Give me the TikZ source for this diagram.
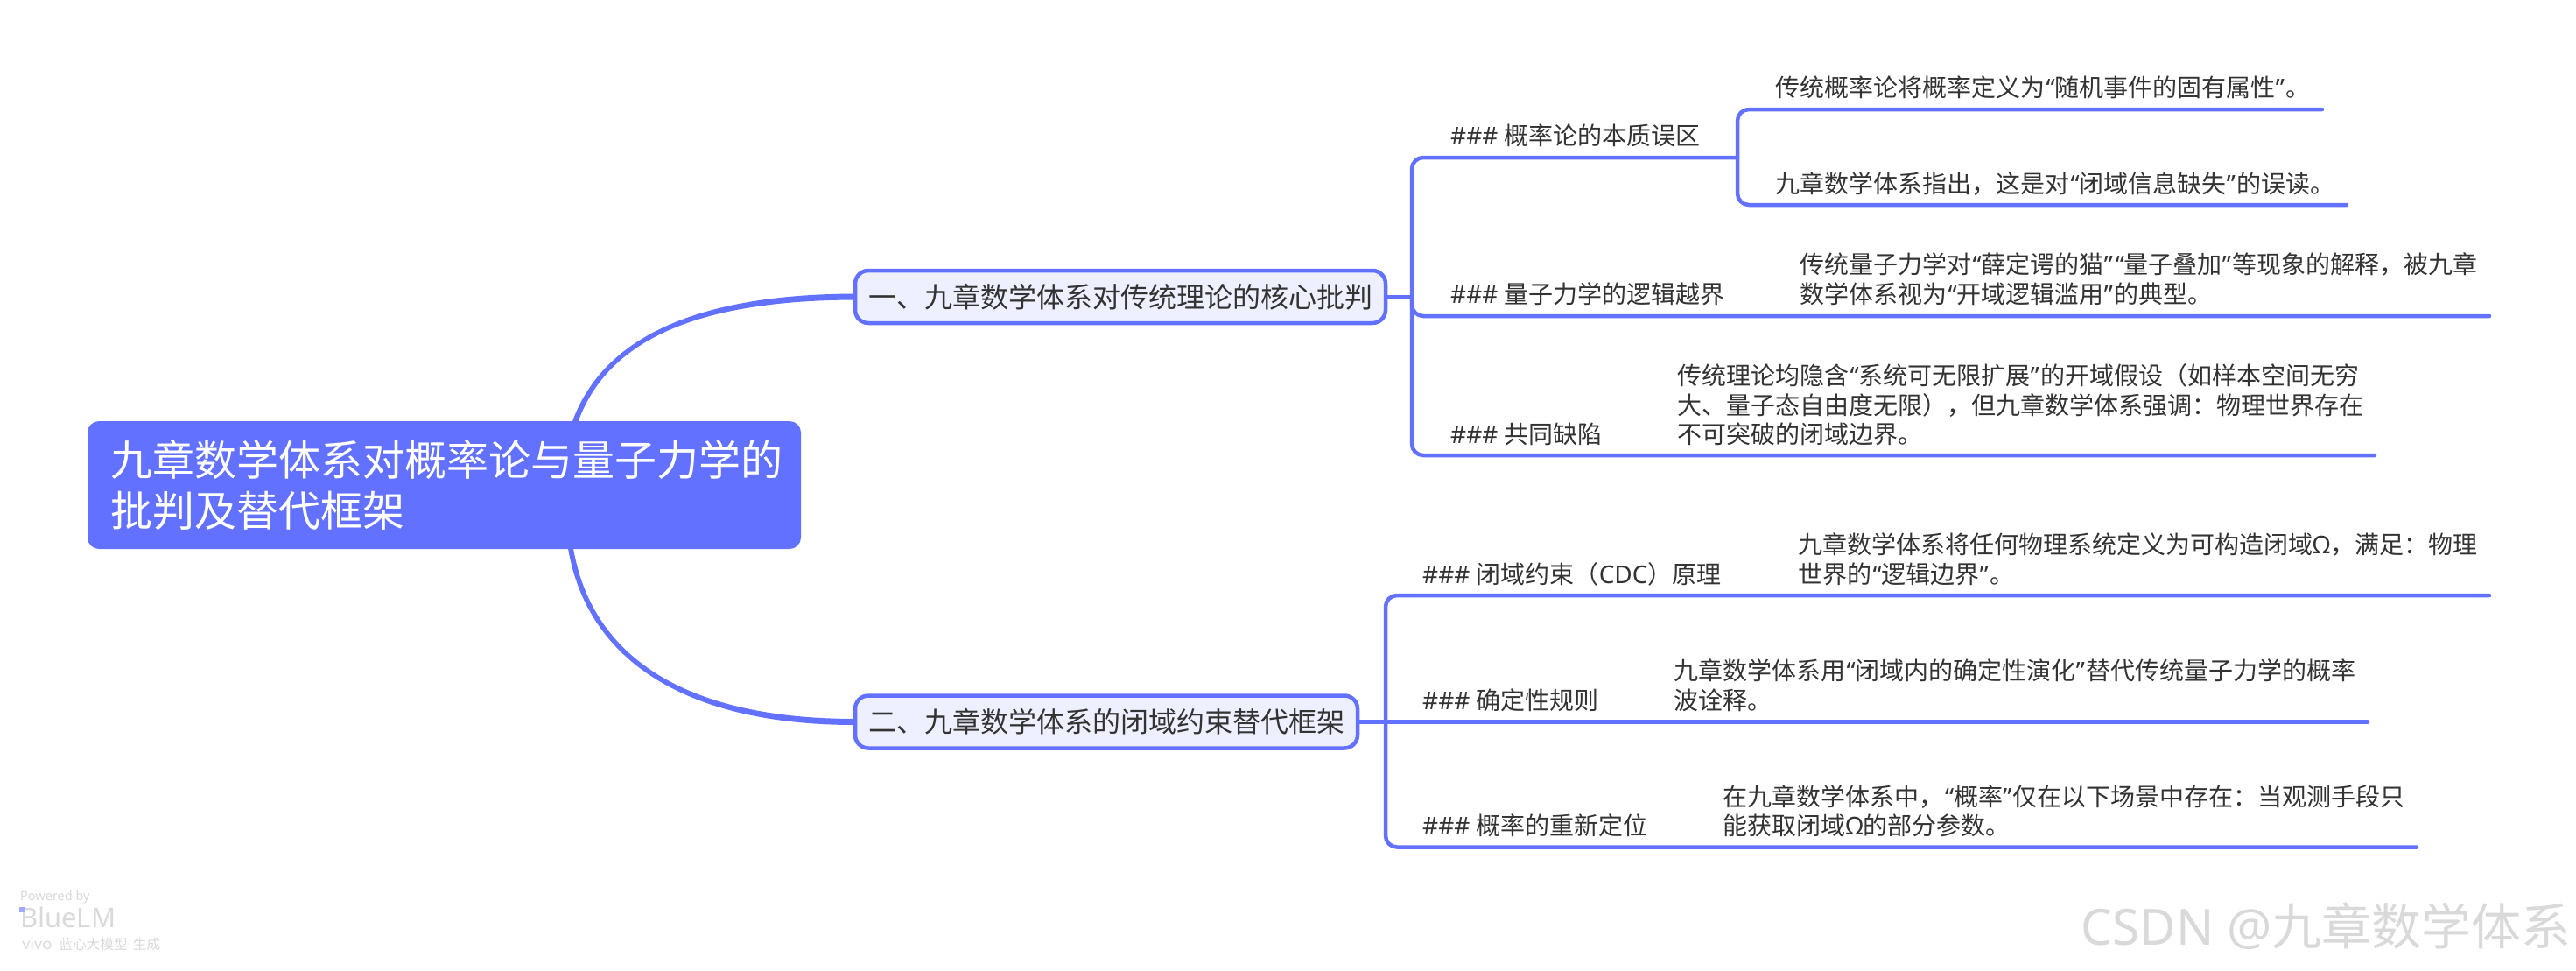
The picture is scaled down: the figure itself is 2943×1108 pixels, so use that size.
\documentclass[tikz,border=0pt]{standalone}
\usepackage{fontspec}
\setmainfont{Noto Sans CJK SC}
\newfontfamily\lat{Noto Sans}
\newfontfamily\popp{Poppins}
\newcommand{\qa}{\kern1.5pt{\lat “}}
\newcommand{\qb}{{\lat ”}\kern1.5pt}
\newcommand{\hh}{{\lat \#\#\# }}
\definecolor{brand}{HTML}{6271FF}
\definecolor{tint}{HTML}{EEF0FF}
\definecolor{ink}{HTML}{333333}
\definecolor{mark}{HTML}{D9D9D9}
\tikzset{
  conn/.style={draw=brand,line width=4.5pt,line cap=round,rounded corners=13pt},
  taper/.style={fill=brand,draw=none},
  rootbox/.style={fill=brand,rounded corners=13pt,inner sep=0pt,outer sep=0pt,minimum width=815pt,minimum height=146pt,text=white,align=left,text width=763pt,font=\fontsize{48}{57.5}\selectfont},
  topicbox/.style={draw=brand,fill=tint,line width=4.5pt,rounded corners=15pt,inner sep=0pt,outer sep=2.25pt,minimum height=60pt,text=ink,font=\fontsize{32}{38}\selectfont},
  heading/.style={anchor=west,inner sep=0pt,text=ink,font=\fontsize{28}{34}\selectfont},
  detail/.style={anchor=west,inner sep=0pt,text=ink,align=left,font=\fontsize{28}{33.6}\selectfont},
}
\begin{document}
\begin{tikzpicture}[x=1pt,y=-1pt]
\useasboundingbox[fill=white] (0,0) rectangle (2943,1108);

% topics
\node[topicbox,minimum width=606pt] (t1) at (1280,339) {一、九章数学体系对传统理论的核心批判};
\node[topicbox,minimum width=574pt] (t2) at (1264,824.5) {二、九章数学体系的闭域约束替代框架};

% junctions and line ends
\coordinate (j1) at (1613,339);
\coordinate (j11) at (1985,180);
\coordinate (e111) at (2653,125);
\coordinate (e112) at (2681,234);
\coordinate (e12) at (2844,361);
\coordinate (e13) at (2713,520);
\coordinate (j2) at (1583,824.5);
\coordinate (e21) at (2844,680);
\coordinate (e22) at (2705,824.5);
\coordinate (e23) at (2761,967.5);
\coordinate (ru1) at (651,490);
\coordinate (ru2) at (657,492);
\coordinate (rl1) at (648,620);
\coordinate (rl2) at (654,620);

% main branches (they start under the root box)
\fill[taper] (ru1) .. controls (682.5,389) and (789,336.5) .. ([yshift=3.5pt]t1.west) -- ([yshift=-3.5pt]t1.west) .. controls (791,343.5) and (687.5,391) .. (ru2) -- cycle;
\fill[taper] (rl1) .. controls (667,751) and (779,827.5) .. ([yshift=-3.5pt]t2.west) -- ([yshift=3.5pt]t2.west) .. controls (781,820.5) and (673,749) .. (rl2) -- cycle;

\node[rootbox] (root) at (507.5,554) {\makebox[763pt][l]{九章数学体系对概率论与量子力学的}\\\makebox[763pt][l]{批判及替代框架}};

% tree connectors
\draw[conn] (t1.east) -- (j1);
\draw[conn] (j1) |- (j11);
\draw[conn] (j1) |- (e12);
\draw[conn] (j1) |- (e13);
\draw[conn] (j11) |- (e111);
\draw[conn] (j11) |- (e112);
\draw[conn] (t2.east) -- (e22);
\draw[conn] (j2) |- (e21);
\draw[conn] (j2) |- (e23);

% headings
\node[heading] (h11) at (1657,155) {\hh 概率论的本质误区};
\node[heading] (h12) at (1657,336) {\hh 量子力学的逻辑越界};
\node[heading] (h13) at (1657,496) {\hh 共同缺陷};
\node[heading] (h21) at (1625,656) {\hh 闭域约束（{\lat CDC}）原理};
\node[heading] (h22) at (1625,800) {\hh 确定性规则};
\node[heading] (h23) at (1625,943) {\hh 概率的重新定位};

% details
\node[detail] (d111) at (2028,100) {传统概率论将概率定义为\qa 随机事件的固有属性\qb 。};
\node[detail] (d112) at (2028,210) {九章数学体系指出，这是对\qa 闭域信息缺失\qb 的误读。};
\node[detail] (d12) at (2056,319) {传统量子力学对\qa 薛定谔的猫\qb\qa 量子叠加\qb 等现象的解释，被九章\\数学体系视为\qa 开域逻辑滥用\qb 的典型。};
\node[detail] (d13) at (1916,462.5) {传统理论均隐含\qa 系统可无限扩展\qb 的开域假设（如样本空间无穷\\大、量子态自由度无限），但九章数学体系强调：物理世界存在\\不可突破的闭域边界。};
\node[detail] (d21) at (2054,639) {九章数学体系将任何物理系统定义为可构造闭域{\lat Ω}，满足：物理\\世界的\qa 逻辑边界\qb 。};
\node[detail] (d22) at (1912,782.5) {九章数学体系用\qa 闭域内的确定性演化\qb 替代传统量子力学的概率\\波诠释。};
\node[detail] (d23) at (1968.5,926) {在九章数学体系中，\qa 概率\qb 仅在以下场景中存在：当观测手段只\\能获取闭域{\lat Ω}的部分参数。};

% credit and watermark
\node[anchor=west,inner sep=0pt,text=mark,font=\lat\fontsize{14.5}{18}\selectfont] (pw) at (23,1025) {Powered by};
\node[anchor=west,inner sep=0pt,text=mark,font=\lat\fontsize{31}{36}\selectfont] (bl) at (23,1048) {BlueLM};
\node[anchor=west,inner sep=0pt,text=mark,font=\fontsize{15.7}{18}\selectfont] (vv) at (25,1079) {{\popp\fontsize{17}{18}\selectfont vivo}\hspace{8pt}蓝心大模型\hspace{6pt}生成};
\fill[fill=brand!60] (22,1036) rectangle (28,1042);
\node[anchor=east,inner sep=0pt,text=mark,font=\fontsize{57}{66}\selectfont] (wm) at (2938,1058) {{\lat CSDN @}九章数学体系};
\end{tikzpicture}
\end{document}
